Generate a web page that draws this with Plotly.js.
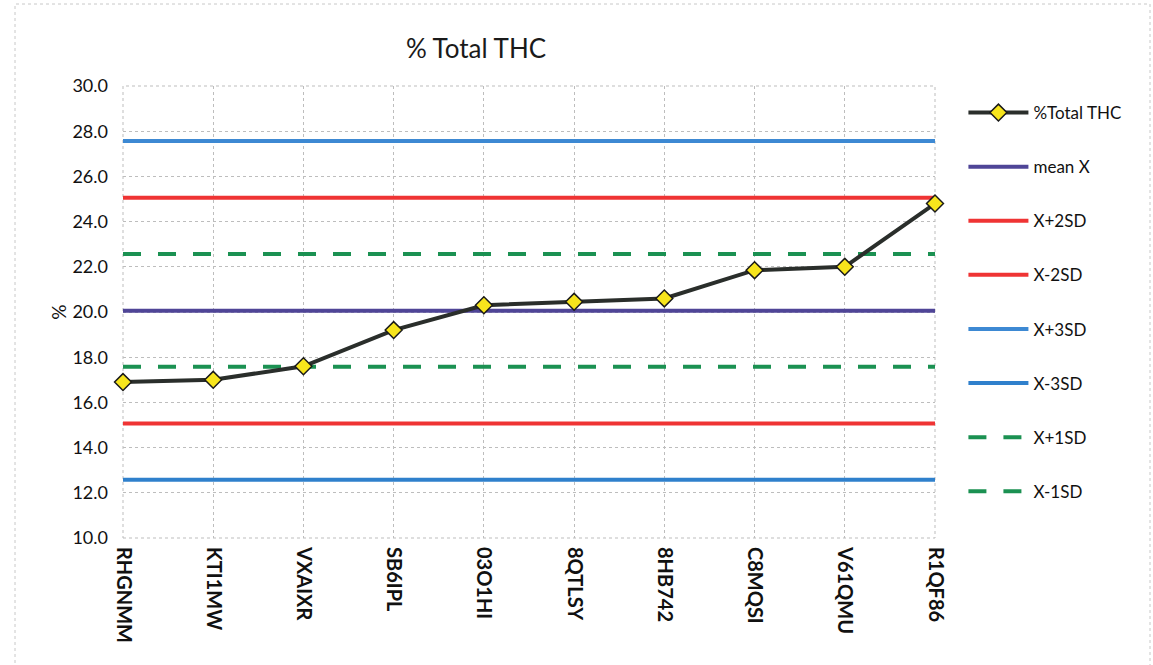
<!DOCTYPE html>
<html>
<head>
<meta charset="utf-8">
<script src="https://cdn.plot.ly/plotly-3.0.1.min.js"></script>
<style>html,body{margin:0;padding:0;background:#fff;}#chart{width:1153px;height:665px;}</style>
</head>
<body>
<div id="chart"></div>
<script>
const categories = ["RHGNMM","KTI1MW","VXAIXR","SB6IPL","03O1HI","8QTLSY","8HB742","C8MQSI","V61QMU","R1QF86"];
const totalTHC = [16.9, 17.0, 17.6, 19.2, 20.3, 20.45, 20.6, 21.85, 22.0, 24.8];
const meanX = 20.05;
const xPlus2SD = 25.05;
const xMinus2SD = 15.07;
const xPlus3SD = 27.57;
const xMinus3SD = 12.58;
const xPlus1SD = 22.57;
const xMinus1SD = 17.58;
const yTicks = [10,12,14,16,18,20,22,24,26,28,30];
const yTickLabels = ["10.0","12.0","14.0","16.0","18.0","20.0","22.0","24.0","26.0","28.0","30.0"];

function hline(name, val, color, dash, rank) {
  return {
    x: categories, y: categories.map(() => val), name: name, type: 'scatter', mode: 'lines',
    line: {color: color, width: 4, dash: dash || 'solid'}, legendgroup: 'g' + rank, legendrank: rank, hoverinfo: 'skip'
  };
}

const dataTrace = {x: categories, y: totalTHC, name: '%Total THC', type: 'scatter', mode: 'lines+markers',
   line: {color: '#2a2e2b', width: 4},
   marker: {symbol: 'diamond', size: 13, color: '#f7e51c', line: {color: '#1a1a1a', width: 1.5}},
   legendgroup: 'g1', legendrank: 1, cliponaxis: false};

const traces = [
  hline('mean X', meanX, '#4f4597', null, 2),
  hline('X+2SD', xPlus2SD, '#ef3434', null, 3),
  hline('X-2SD', xMinus2SD, '#ef3434', null, 4),
  hline('X+3SD', xPlus3SD, '#3d89d3', null, 5),
  hline('X-3SD', xMinus3SD, '#2f80cc', null, 6),
  hline('X+1SD', xPlus1SD, '#1b9152', '18px,17px', 7),
  hline('X-1SD', xMinus1SD, '#1b9152', '18px,17px', 8),
  dataTrace
];

const layout = {
  width: 1153, height: 665,
  margin: {l: 123, r: 218, t: 86, b: 127},
  paper_bgcolor: '#ffffff', plot_bgcolor: '#ffffff',
  font: {family: 'Lato, "Open Sans", sans-serif', color: '#1a1a1a'},
  title: {text: '% Total THC', font: {size: 26, family: 'Lato, sans-serif', color: '#1a1a1a'},
          x: 476/1153, xanchor: 'center', xref: 'container', y: 1 - 49/665, yanchor: 'middle', yref: 'container'},
  xaxis: {
    type: 'category', categoryorder: 'array', categoryarray: categories,
    range: [0, categories.length - 1],
    tickangle: 90, tickfont: {size: 20, family: 'Lato, sans-serif', color: '#111', weight: 'bold'},
    ticklabelstandoff: 8,
    showgrid: true, gridcolor: '#bdbdbd', griddash: 'dot', gridwidth: 1,
    zeroline: false, showline: false, ticks: '', ticklen: 0, automargin: false
  },
  yaxis: {
    range: [10, 30], tickvals: yTicks, ticktext: yTickLabels,
    tickfont: {size: 18, family: 'Lato, sans-serif', color: '#111'},
    ticklabelstandoff: 14,
    showgrid: true, gridcolor: '#bdbdbd', griddash: 'dot', gridwidth: 1,
    zeroline: false, showline: false, ticks: '', ticklen: 0, automargin: false,
    title: {text: '%', font: {size: 19, family: 'Lato, sans-serif', color: '#111'}, standoff: 0}
  },
  showlegend: true,
  legend: {
    x: 1.035, xanchor: 'left', y: 1 - 9/452, yanchor: 'top',
    font: {size: 17, family: 'Lato, sans-serif', color: '#111'},
    tracegroupgap: 29, traceorder: 'grouped', itemwidth: 60,
    bgcolor: 'rgba(0,0,0,0)'
  },
  shapes: [
    {type: 'rect', xref: 'paper', yref: 'paper',
     x0: (15 - 123)/812, x1: (1150 - 123)/812, y0: -(672 - 538)/452, y1: 1 + (86 - 4)/452,
     line: {color: '#c8c8c8', width: 1, dash: 'dot'}, fillcolor: 'rgba(0,0,0,0)', layer: 'below'},
    {type: 'rect', xref: 'paper', yref: 'paper', x0: 0, x1: 1, y0: 0, y1: 1,
     line: {color: '#bdbdbd', width: 1, dash: 'dot'}, fillcolor: 'rgba(0,0,0,0)', layer: 'below'}
  ]
};

Plotly.newPlot('chart', traces, layout, {displayModeBar: false, staticPlot: true});
</script>
</body>
</html>
